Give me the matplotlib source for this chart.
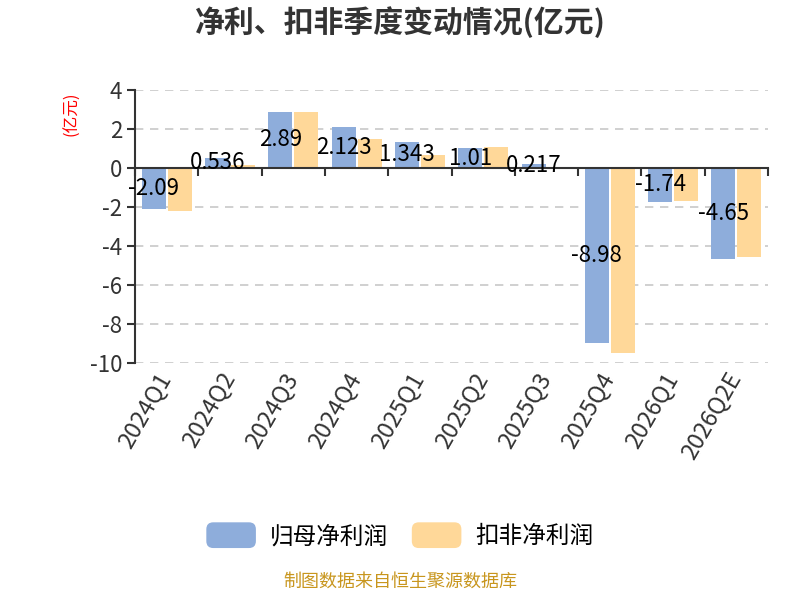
import matplotlib
matplotlib.use("Agg")
import matplotlib.pyplot as plt
from matplotlib.patches import FancyBboxPatch, Patch
from matplotlib.legend_handler import HandlerPatch
import numpy as np

plt.rcParams["font.family"] = ["Noto Sans CJK SC", "DejaVu Sans"]
plt.rcParams["axes.unicode_minus"] = False

# data (亿元)
quarters = ["2024Q1", "2024Q2", "2024Q3", "2024Q4", "2025Q1",
            "2025Q2", "2025Q3", "2025Q4", "2026Q1", "2026Q2E"]
net_profit = [-2.09, 0.536, 2.89, 2.123, 1.343, 1.01, 0.217, -8.98, -1.74, -4.65]
net_profit_labels = ["-2.09", "0.536", "2.89", "2.123", "1.343",
                     "1.01", "0.217", "-8.98", "-1.74", "-4.65"]
deducted_profit = [-2.2, 0.15, 2.85, 1.5, 0.65, 1.08, 0.05, -9.5, -1.7, -4.55]

BLUE = "#8eaddb"
ORANGE = "#ffd899"
AXIS = "#333333"


class RoundHandler(HandlerPatch):
    def create_artists(self, legend, orig_handle, xdescent, ydescent,
                       width, height, fontsize, trans):
        p = FancyBboxPatch((-xdescent, -ydescent), width, height,
                           boxstyle="round,pad=0,rounding_size=5",
                           facecolor=orig_handle.get_facecolor(),
                           edgecolor="none", transform=trans)
        return [p]


fig = plt.figure(figsize=(8, 6), dpi=100)
ax = fig.add_axes([0.169, 0.395, 0.791, 0.455])

x = np.arange(len(quarters))
w = 0.38
ax.bar(x - w / 2 - 0.015, net_profit, w, color=BLUE, zorder=3)
ax.bar(x + w / 2 + 0.015, deducted_profit, w, color=ORANGE, zorder=3)

for xi, v, s in zip(x, net_profit, net_profit_labels):
    ax.text(xi - w / 2 - 0.015, v / 2, s, ha="center", va="center",
            fontsize=16, color="black", zorder=5)

ax.set_xlim(-0.5, len(quarters) - 0.5)
ax.set_ylim(-10, 4)
ax.set_yticks(range(-10, 5, 2))
ax.tick_params(axis="y", labelsize=16, colors=AXIS, length=6, width=1.5)
ax.yaxis.grid(True, linestyle=(0, (5, 4)), color="#c8c8c8", linewidth=1.2, zorder=0)

ax.spines["top"].set_visible(False)
ax.spines["right"].set_visible(False)
ax.spines["left"].set_color(AXIS)
ax.spines["left"].set_linewidth(1.5)
ax.spines["bottom"].set_position(("data", 0))
ax.spines["bottom"].set_color(AXIS)
ax.spines["bottom"].set_linewidth(1.5)
ax.spines["bottom"].set_zorder(4)

ax.set_xticks(np.arange(-0.5, len(quarters), 1.0))
ax.set_xticklabels([])
ax.tick_params(axis="x", length=6, width=1.5, colors=AXIS, direction="out")

for xi, q in zip(x, quarters):
    ax.text(xi - 0.17, -0.02, q, transform=ax.get_xaxis_transform(),
            rotation=60, ha="right", va="top", fontsize=17, color=AXIS,
            rotation_mode="anchor")

fig.text(0.09, 0.81, "(亿元)", rotation=90, color="red", fontsize=12,
         ha="center", va="center")
fig.suptitle("净利、扣非季度变动情况(亿元)", x=0.5, y=0.99, fontsize=21.5,
             fontweight="bold", color=AXIS)

h1 = Patch(facecolor=BLUE, label="归母净利润")
h2 = Patch(facecolor=ORANGE, label="扣非净利润")
ax.legend(handles=[h1, h2], loc="center", bbox_to_anchor=(0.5, 0.108),
          bbox_transform=fig.transFigure, ncol=2, frameon=False, fontsize=17,
          handlelength=2.1, handleheight=1.3, columnspacing=1.0, handletextpad=0.6,
          handler_map={Patch: RoundHandler()})

fig.text(0.5, 0.015, "制图数据来自恒生聚源数据库", ha="center", va="bottom",
         fontsize=13, color="#c8961e")

fig.savefig("out.png", dpi=100)
